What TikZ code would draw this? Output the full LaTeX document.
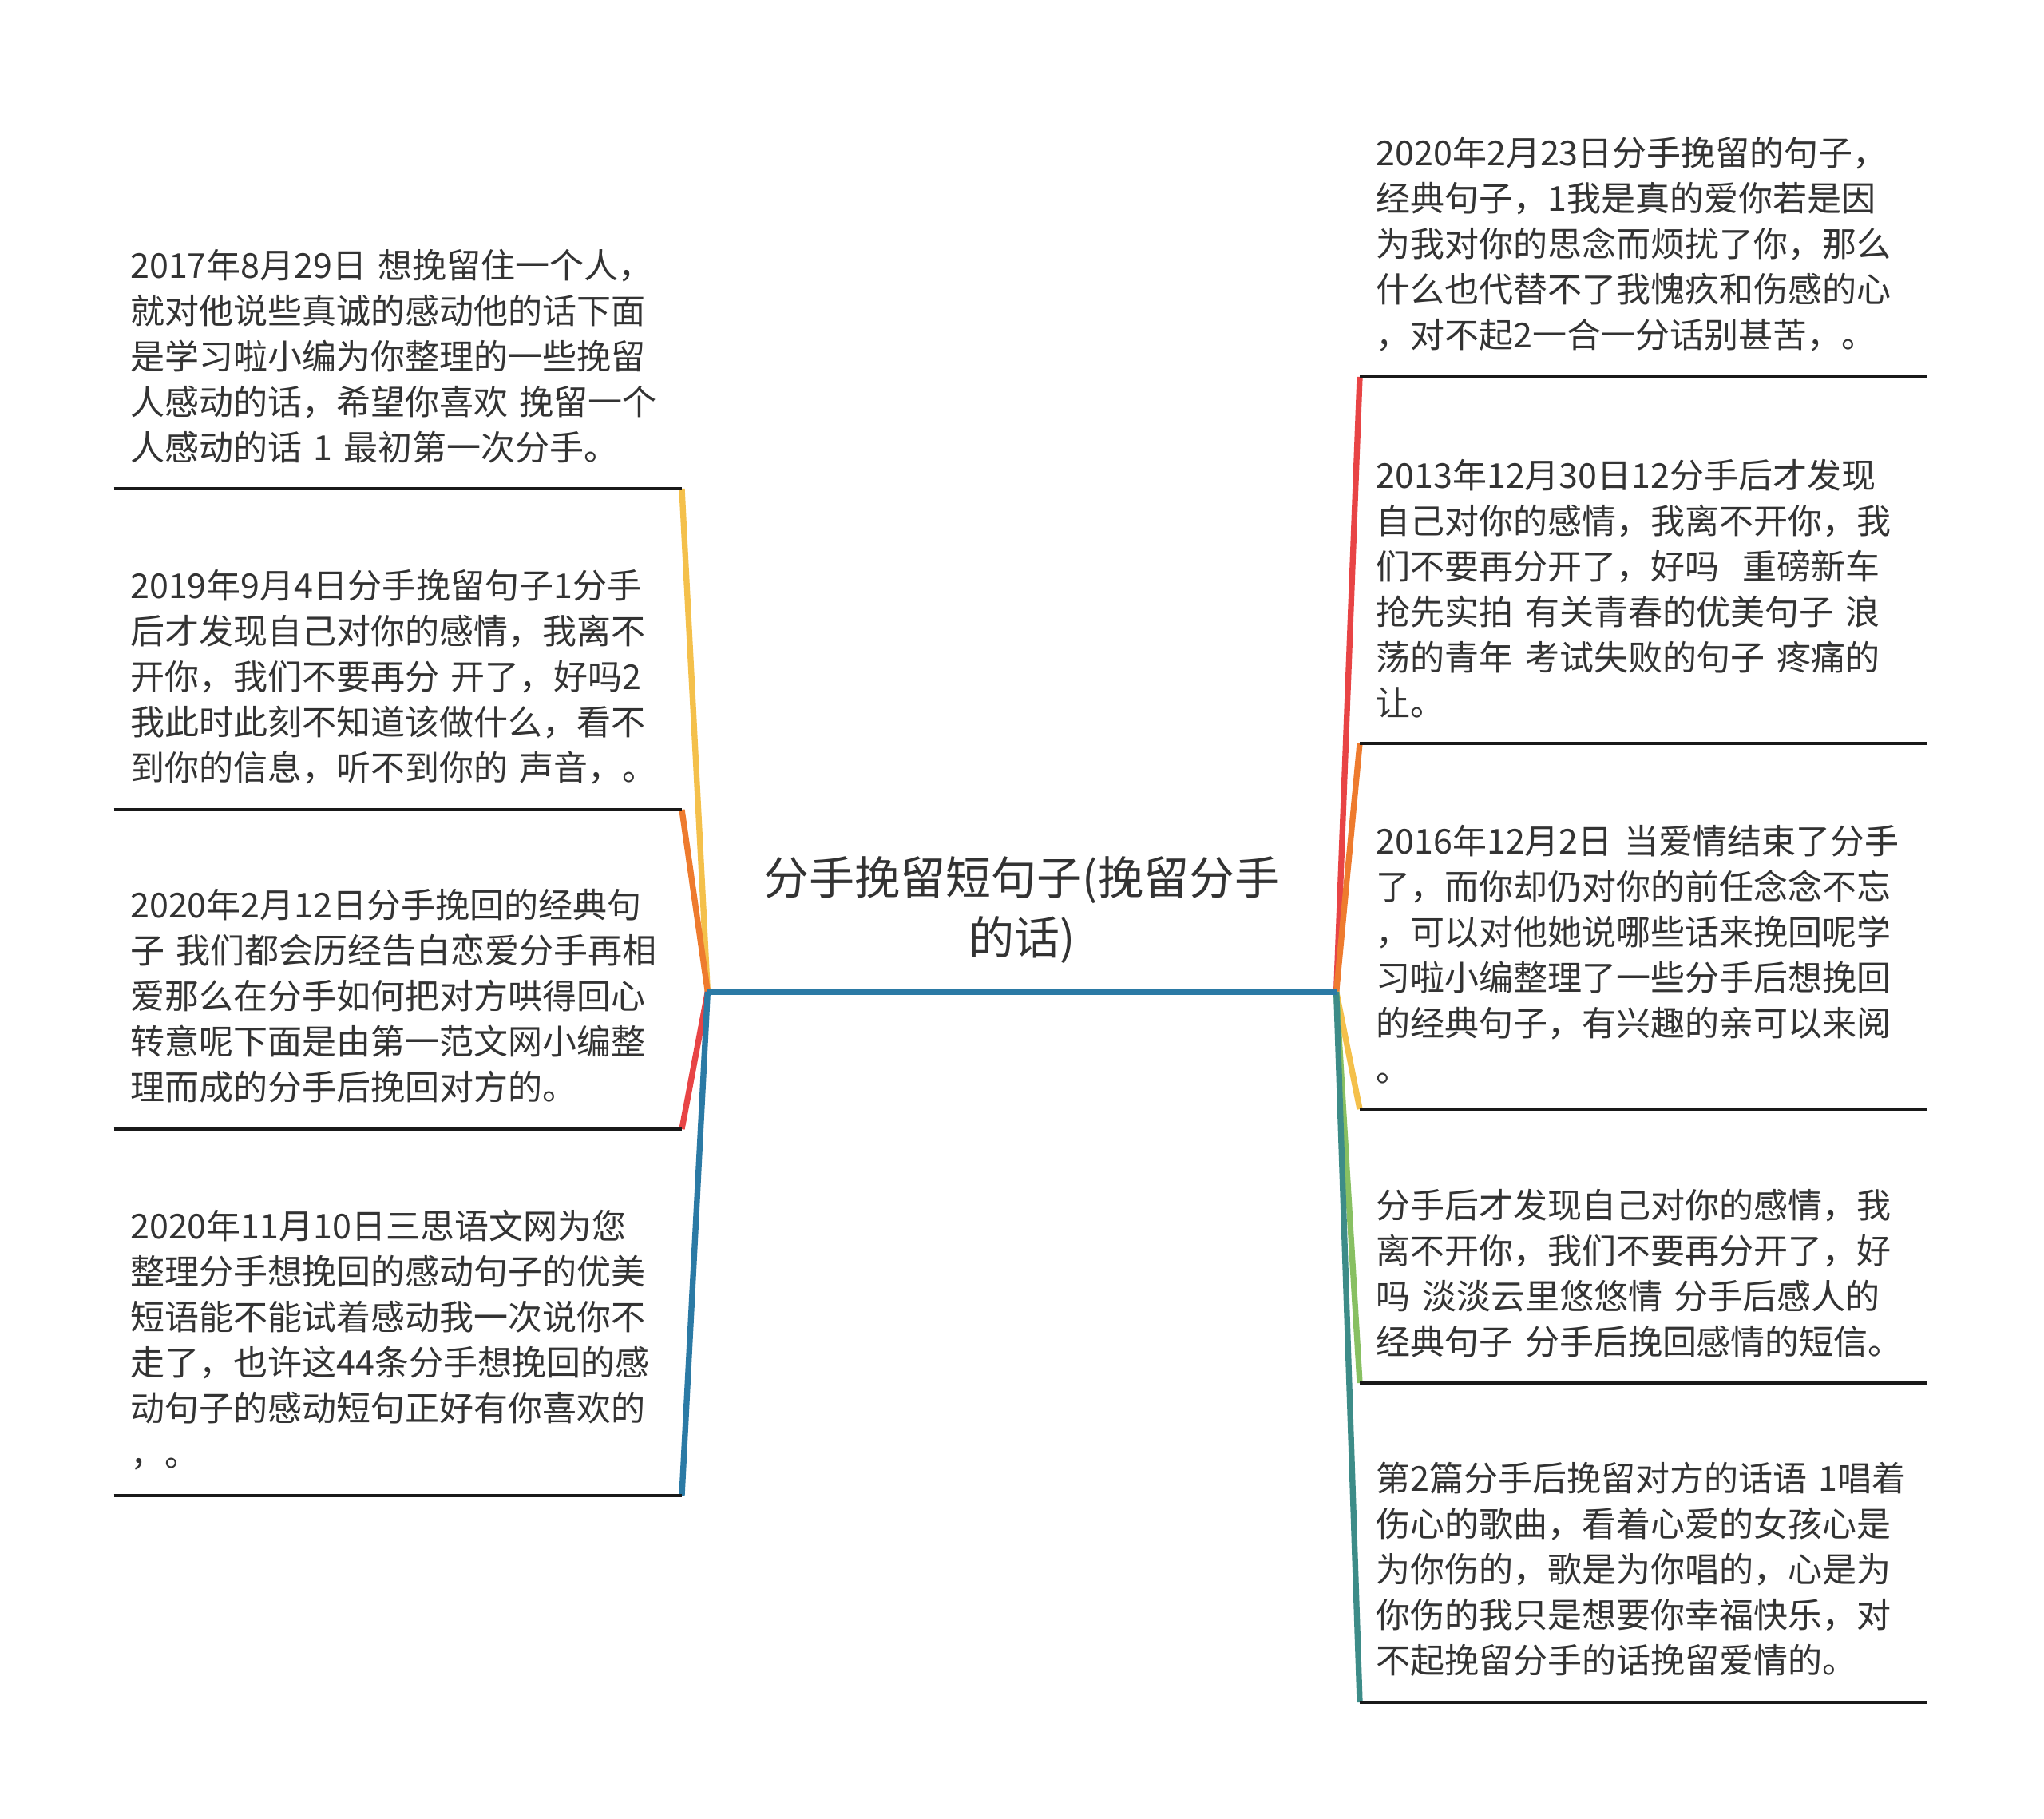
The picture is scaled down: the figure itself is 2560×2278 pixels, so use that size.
\documentclass[tikz,border=0pt]{standalone}
\usepackage{fontspec}
\setmainfont{Noto Sans CJK SC}
\usepackage{tikz}

\definecolor{txtgray}{HTML}{333333}
\definecolor{lnyellow}{HTML}{F4C04B}
\definecolor{lnorange}{HTML}{EE7B2E}
\definecolor{lnred}{HTML}{E84445}
\definecolor{lnblue}{HTML}{2B7AA5}
\definecolor{lngreen}{HTML}{88C062}
\definecolor{lnteal}{HTML}{3D8C88}

\begin{document}
\begin{tikzpicture}[
  x=0.3pt, y=-0.3pt,
  leaf/.style={anchor=south west, inner xsep=6pt, inner ysep=9.5pt, text width=201pt,
    align=left, text=txtgray, font=\fontsize{12.9}{17.1}\selectfont},
  leftleaf/.style={leaf, anchor=south east},
  root/.style={anchor=south, minimum width=235.8pt, inner ysep=10.5pt, align=center,
    text=txtgray, font=\fontsize{17.1}{22.5}\selectfont},
  underline/.style={draw=black!90, line width=1.4pt},
  branch/.style={line width=2.2pt}
]
\useasboundingbox (0,0) rectangle (2560,2278);

\node[root] (root) at (1280,1242) {分手挽留短句子(挽留分手\\的话)};

\node[leftleaf] (l1) at (854,612) {2017年8月29日 想挽留住一个人，\\就对他说些真诚的感动他的话下面\\是学习啦小编为你整理的一些挽留\\人感动的话，希望你喜欢 挽留一个\\人感动的话 1 最初第一次分手。};
\node[leftleaf] (l2) at (854,1014) {2019年9月4日分手挽留句子1分手\\后才发现自己对你的感情，我离不\\开你，我们不要再分 开了，好吗2\\我此时此刻不知道该做什么，看不\\到你的信息，听不到你的 声音，。};
\node[leftleaf] (l3) at (854,1414) {2020年2月12日分手挽回的经典句\\子 我们都会历经告白恋爱分手再相\\爱那么在分手如何把对方哄得回心\\转意呢下面是由第一范文网小编整\\理而成的分手后挽回对方的。};
\node[leftleaf] (l4) at (854,1873) {2020年11月10日三思语文网为您\\整理分手想挽回的感动句子的优美\\短语能不能试着感动我一次说你不\\走了，也许这44条分手想挽回的感\\动句子的感动短句正好有你喜欢的\\，。};

\node[leaf] (r1) at (1703,472) {2020年2月23日分手挽留的句子，\\经典句子，1我是真的爱你若是因\\为我对你的思念而烦扰了你，那么\\什么也代替不了我愧疚和伤感的心\\，对不起2一合一分话别甚苦，。};
\node[leaf] (r2) at (1703,931) {2013年12月30日12分手后才发现\\自己对你的感情，我离不开你，我\\们不要再分开了，好吗\ \ 重磅新车\\抢先实拍 有关青春的优美句子 浪\\荡的青年 考试失败的句子 疼痛的\\让。};
\node[leaf] (r3) at (1703,1389) {2016年12月2日 当爱情结束了分手\\了，而你却仍对你的前任念念不忘\\，可以对他她说哪些话来挽回呢学\\习啦小编整理了一些分手后想挽回\\的经典句子，有兴趣的亲可以来阅\\。};
\node[leaf] (r4) at (1703,1732) {分手后才发现自己对你的感情，我\\离不开你，我们不要再分开了，好\\吗 淡淡云里悠悠情 分手后感人的\\经典句子 分手后挽回感情的短信。};
\node[leaf] (r5) at (1703,2132) {第2篇分手后挽留对方的话语 1唱着\\伤心的歌曲，看着心爱的女孩心是\\为你伤的，歌是为你唱的，心是为\\你伤的我只是想要你幸福快乐，对\\不起挽留分手的话挽留爱情的。};

\draw[branch, lnyellow] (root.south west) -- (l1.south east);
\draw[branch, lnorange] (root.south west) -- (l2.south east);
\draw[branch, lnred] (root.south west) -- (l3.south east);
\draw[branch, lnblue] (root.south west) -- (l4.south east);

\draw[branch, lnred] (root.south east) -- (r1.south west);
\draw[branch, lnorange] (root.south east) -- (r2.south west);
\draw[branch, lnyellow] (root.south east) -- (r3.south west);
\draw[branch, lngreen] (root.south east) -- (r4.south west);
\draw[branch, lnteal] (root.south east) -- (r5.south west);

\draw[branch, lnblue] (root.south west) -- (root.south east);

\foreach \n in {l1,l2,l3,l4,r1,r2,r3,r4,r5}
  \draw[underline] (\n.south west) -- (\n.south east);
\end{tikzpicture}
\end{document}
